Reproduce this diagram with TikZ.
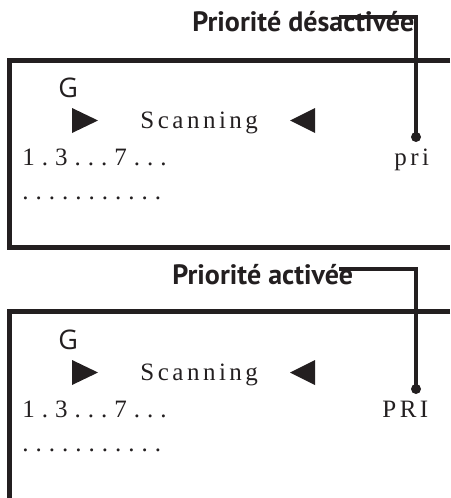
\documentclass[tikz,border=0pt]{standalone}
\usepackage{fontspec}
\setmainfont{Liberation Serif}
\newfontfamily\headfont{PT Sans}
\newfontfamily\bandfont{Open Sans}
\newfontfamily\spaced{Liberation Serif}[LetterSpace=14]
\newfontfamily\spacedwide{Liberation Serif}[LetterSpace=28]
\definecolor{ink}{HTML}{231F20}

\begin{document}
\begin{tikzpicture}[x=0.5pt, y=-0.5pt, every node/.style={inner sep=0pt, anchor=base west, text=ink},
        frame/.style={draw=ink, line width=2.5pt},
        leader/.style={draw=ink, line width=2.2pt},
        head/.style={font=\headfont\bfseries\fontsize{14}{16}\selectfont},
        letter/.style={font=\bandfont\fontsize{13.5}{16}\selectfont},
        screen/.style={font=\spaced\fontsize{12.5}{14}\selectfont},
        digits/.style={font=\spacedwide\fontsize{12.5}{14}\selectfont}]
    \useasboundingbox (0,0) rectangle (450,498);
    \draw[frame] (450,60.5) -| (9.5,247) -- (450,247);
    \draw[frame] (450,311.5) -| (9.5,498);
    \foreach \i/\dy/\txt/\hx/\tag/\tx in {1/0/Priorité désactivée/192/pri/394, 2/252/Priorité activée/172/PRI/382} {
        \begin{scope}[shift={(0,\dy)}]
            \node[head] (head\i) at (\hx,32) {\txt};
            \node[letter] (band\i) at (58,97) {G};
            \node[screen] (scan\i) at (140,128) {Scanning};
            \node[digits] (chan\i) at (22,165) {1.3...7...};
            \node[digits] (rest\i) at (22,199) {...........};
            \node[screen] (prio\i) at (\tx,165) {\tag};
            \coordinate (from\i) at (339,17);
            \coordinate (pin\i) at (416,137);
            \fill[ink] (72,108) -- (98,120.5) -- (72,133) -- cycle;
            \fill[ink] (315,108) -- (290,120.5) -- (315,133) -- cycle;
            \draw[leader] (from\i) -| (pin\i);
            \fill[ink] (pin\i) circle (2.5pt);
        \end{scope}
    }
\end{tikzpicture}
\end{document}
